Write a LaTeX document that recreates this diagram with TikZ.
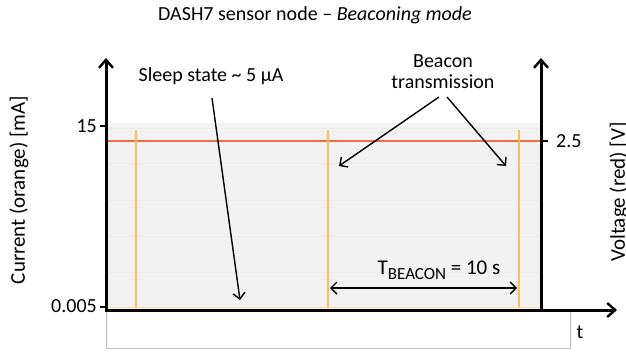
\documentclass[tikz,border=0pt]{standalone}
\usepackage{fontspec}
\setmainfont{Carlito}
\usetikzlibrary{arrows.meta}
\definecolor{curcol}{RGB}{255,190,80}
\definecolor{voltcol}{RGB}{240,110,70}
\begin{document}
\begin{tikzpicture}[x=1pt,y=-1pt,
  lbl/.style={font=\fontsize{20}{22}\selectfont, inner sep=0pt, align=center},
  albl/.style={font=\fontsize{21}{23}\selectfont, inner sep=0pt, rotate=90},
  ax/.style={line width=3pt,-{Straight Barb[length=8pt,width=14pt,line width=2.4pt]}},
  pointer/.style={line width=1.4pt,-{Straight Barb[length=6pt,width=12pt,line width=1.4pt]}},
  grid/.style={draw=black!7, line width=0.8pt},
  cur/.style={draw=curcol, line width=1.4pt},
  volt/.style={draw=voltcol, line width=1.3pt}]
\useasboundingbox (0,0) rectangle (626,351);
% outer frame
\draw[black!25, line width=0.8pt] (106,310) rectangle (570,348);
% plot area
\fill[black!5] (106,123) rectangle (541,309);
\foreach \yy in {128,163,200,236,272} \draw[grid] (107,\yy) -- (540,\yy);
% voltage line with dips
\draw[volt] (107,141) -- (541,141);
\foreach \xx in {136,328,519} \draw[volt,line width=1pt] (\xx,141) -- (\xx,151);
% current spikes
\foreach \xx in {136,328,519} \draw[cur] (\xx,130) -- (\xx,308);
\draw[draw=curcol!50, line width=1pt] (107,307.5) -- (540,307.5);
% axes
\coordinate (o) at (106,310);
\coordinate (ytop) at (106,58);
\coordinate (r0) at (541,310);
\coordinate (rtop) at (541,58);
\coordinate (xend) at (617,310);
\draw[ax] (o) -- (ytop);
\draw[ax] (r0) -- (rtop);
\draw[ax] (104.5,310) -- (xend);
% ticks
\draw[line width=2.4pt] (100,126) -- (106,126);
\draw[line width=2.4pt] (100,307) -- (106,307);
\draw[line width=2.4pt] (541,141) -- (548,141);
\node[lbl, anchor=east] (t15) at (97,126) {15};
\node[lbl, anchor=east] (t0) at (97,306) {0.005};
\node[lbl, anchor=west] (t25) at (556,141) {2.5};
\node[lbl] (tlab) at (580,332) {t};
% axis labels
\node[albl] (ylab) at (19,190) {Current (orange) [mA]};
\node[albl] (vlab) at (619,192) {Voltage (red) [V]};
% title
\node[lbl] (title) at (315,15) {DASH7 sensor node -- \textit{Beaconing mode}};
% annotations
\node[lbl] (sleep) at (211,76) {Sleep state \textasciitilde{} 5 µA};
\coordinate (sleepend) at (240,300);
\draw[pointer] (212,98) -- (sleepend);
\node[lbl] (beacon) at (443,72) {Beacon\\[-1pt]transmission};
\coordinate (b1) at (339,166);
\coordinate (b2) at (506,166);
\draw[pointer] (439,97) -- (b1);
\draw[pointer] (447,97) -- (b2);
\node[lbl, font=\fontsize{21}{23}\selectfont] (tb) at (439,270) {T\raisebox{-5pt}{\fontsize{17}{19}\selectfont BEACON} = 10 s};
\coordinate (p1) at (330,288);
\coordinate (p2) at (517,288);
\draw[line width=1.4pt,{Straight Barb[length=6pt,width=12pt,line width=1.4pt]}-{Straight Barb[length=6pt,width=12pt,line width=1.4pt]}] (p1) -- (p2);
\end{tikzpicture}
\end{document}
